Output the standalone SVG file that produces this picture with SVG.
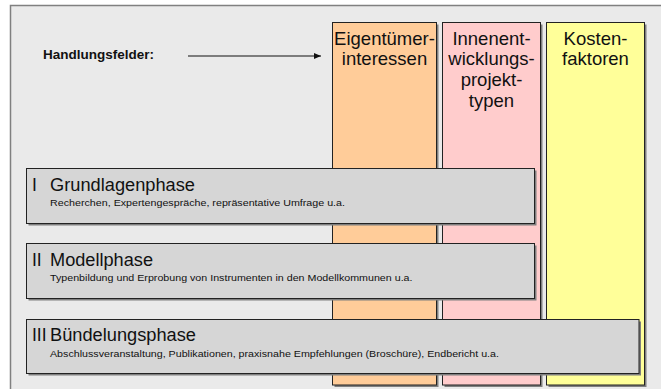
<svg xmlns="http://www.w3.org/2000/svg" width="661" height="389" viewBox="0 0 661 389">
<style>
  .frame{fill:#eaeaea;stroke:#808080;stroke-width:1.5}
  .shadow{fill:#7f7f7f}
  .col{stroke:#222;stroke-width:1}
  .phase{fill:#d6d6d6;stroke:#222;stroke-width:1}
  .hdr{font-family:"Liberation Sans",Arial,sans-serif;font-size:18.5px;fill:#111;text-anchor:middle}
  .num,.ttl{font-family:"Liberation Sans",Arial,sans-serif;font-size:17.5px;fill:#111}
  .sub{font-family:"Liberation Sans",Arial,sans-serif;font-size:9px;fill:#111}
  .lbl{font-family:"Liberation Sans",Arial,sans-serif;font-size:13px;font-weight:bold;fill:#111}
</style>
<defs>
  <marker id="ah" viewBox="0 0 10 10" refX="10" refY="5" markerWidth="7" markerHeight="6" markerUnits="userSpaceOnUse" orient="auto" preserveAspectRatio="none">
    <path d="M0,0 L10,5 L0,10 z" fill="#111"/>
  </marker>
</defs>
<rect width="661" height="389" fill="#ffffff"/>
<rect class="frame" x="10.5" y="5.5" width="690" height="420"/>

<g id="label-handlungsfelder">
  <text class="lbl" x="43" y="59.3" textLength="111" lengthAdjust="spacingAndGlyphs">Handlungsfelder:</text>
</g>

<g id="col-eigentuemer">
  <rect class="shadow" x="334.5" y="24.5" width="104" height="362.5"/>
  <rect class="col" x="332.5" y="22.5" width="104" height="362.5" fill="#ffcc99"/>
  <text class="hdr" x="384.5" y="44.5">Eigentümer-</text>
  <text class="hdr" x="384.5" y="65.3">interessen</text>
</g>

<g id="col-innenentwicklung">
  <rect class="shadow" x="444.5" y="24.5" width="98" height="362.5"/>
  <rect class="col" x="442.5" y="22.5" width="98" height="362.5" fill="#ffcccc"/>
  <text class="hdr" x="491.5" y="44.5">Innenent-</text>
  <text class="hdr" x="491.5" y="65.3">wicklungs-</text>
  <text class="hdr" x="491.5" y="86.1">projekt-</text>
  <text class="hdr" x="491.5" y="106.9">typen</text>
</g>

<g id="col-kosten">
  <rect class="shadow" x="548.5" y="24.5" width="98" height="362.5"/>
  <rect class="col" x="546.5" y="22.5" width="98" height="362.5" fill="#ffff99"/>
  <text class="hdr" x="595.5" y="44.5">Kosten-</text>
  <text class="hdr" x="595.5" y="65.3">faktoren</text>
</g>

<g id="phase-1">
  <rect class="shadow" x="28.5" y="170.5" width="508" height="55"/>
  <rect class="phase" x="26.5" y="168.5" width="508" height="55"/>
  <text class="num" x="32" y="191">I</text>
  <text class="ttl" x="50" y="191" textLength="145" lengthAdjust="spacingAndGlyphs">Grundlagenphase</text>
  <text class="sub" x="50" y="206" textLength="295" lengthAdjust="spacingAndGlyphs">Recherchen, Expertengespräche, repräsentative Umfrage u.a.</text>
</g>

<g id="phase-2">
  <rect class="shadow" x="28.5" y="245.5" width="508" height="55"/>
  <rect class="phase" x="26.5" y="243.5" width="508" height="55"/>
  <text class="num" x="32" y="265.5">II</text>
  <text class="ttl" x="50" y="265.5" textLength="103" lengthAdjust="spacingAndGlyphs">Modellphase</text>
  <text class="sub" x="50" y="281" textLength="362.5" lengthAdjust="spacingAndGlyphs">Typenbildung und Erprobung von Instrumenten in den Modellkommunen u.a.</text>
</g>

<g id="phase-3">
  <rect class="shadow" x="28.5" y="321.5" width="612.5" height="54"/>
  <rect class="phase" x="26.5" y="319.5" width="612.5" height="54"/>
  <text class="num" x="32" y="341">III</text>
  <text class="ttl" x="50" y="341" textLength="146" lengthAdjust="spacingAndGlyphs">Bündelungsphase</text>
  <text class="sub" x="50" y="357" textLength="449" lengthAdjust="spacingAndGlyphs">Abschlussveranstaltung, Publikationen, praxisnahe Empfehlungen (Broschüre), Endbericht u.a.</text>
</g>

<g id="connectors">
  <line x1="188" y1="56" x2="321" y2="56" stroke="#111" stroke-width="1" marker-end="url(#ah)"/>
</g>
</svg>
